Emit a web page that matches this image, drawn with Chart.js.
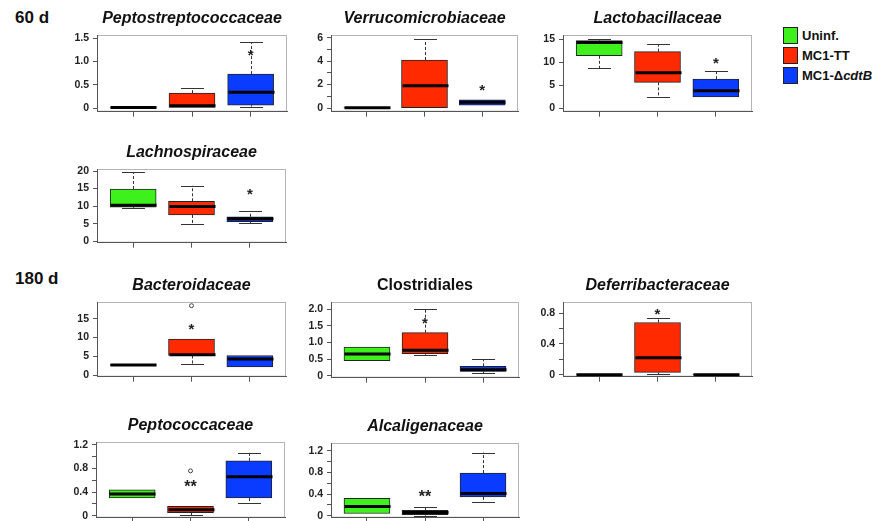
<!DOCTYPE html>
<html lang="en">
<head>
<meta charset="UTF-8">
<title>Family abundance at 60 d and 180 d</title>
<script src="https://cdn.jsdelivr.net/npm/chart.js"></script>
<style>
    body { margin: 0; width: 877px; height: 521px; overflow: hidden; background: #fff; position: relative;
           font-family: 'Liberation Sans', Arial, sans-serif; color: #111; }
    canvas { position: absolute; }
    .day { position: absolute; left: 15px; font-weight: bold; font-size: 17px; }
    .legend { position: absolute; left: 783px; top: 25px; font-weight: bold; font-size: 13px; }
    .legend div { height: 20px; display: flex; align-items: center; }
    .legend .sw { width: 13px; height: 15px; border: 1px solid #222; margin-right: 4px; }
</style>
</head>
<body>
<div class="day" style="top:8px">60 d</div>
<div class="day" style="top:269px">180 d</div>
<div class="legend" id="legend"></div>

<script>
// groups
const groups = ['Uninf.', 'MC1-TT', 'MC1-\u0394cdtB'];
const groupColors = ['#3ef01c', '#ff2a00', '#0a3cff'];

// each stats row: [lower whisker, Q1, median, Q3, upper whisker] for Uninf., MC1-TT, MC1-ΔcdtB
// marks: [text, y] above a group, outliers: values per group

// 60 d
const peptostrepStats = [[0, 0, 0.01, 0.02, 0.02], [0, 0, 0.05, 0.32, 0.43], [0.03, 0.06, 0.34, 0.73, 1.41]];
const peptostrepMarks = [null, null, ['*', 1.21]];
const peptostrepTicks = [0, 0.5, 1, 1.5];
const peptostrepLabels = ['0', '0.5', '1.0', '1.5'];

const verrucoStats = [[0, 0, 0.02, 0.05, 0.05], [0, 0, 1.9, 4.1, 5.86], [0.2, 0.25, 0.5, 0.7, 0.76]];
const verrucoMarks = [null, null, ['*', 1.78]];
const verrucoTicks = [0, 1, 2, 3, 4, 5, 6];
const verrucoLabels = ['0', '', '2', '', '4', '', '6'];

const lactoStats = [[8.7, 11.4, 14.3, 14.7, 15.05], [2.4, 5.6, 7.7, 12.3, 13.9], [2.4, 2.45, 3.76, 6.3, 8.1]];
const lactoMarks = [null, null, ['*', 10.5]];
const lactoTicks = [0, 5, 10, 15];
const lactoLabels = ['0', '5', '10', '15'];

const lachnoStats = [[9.4, 9.7, 10.3, 14.9, 19.6], [4.9, 7.5, 9.9, 11.4, 15.8], [5.1, 5.6, 6.4, 7.0, 8.6]];
const lachnoMarks = [null, null, ['*', 14.4]];
const lachnoTicks = [0, 5, 10, 15, 20];
const lachnoLabels = ['0', '5', '10', '15', '20'];

// 180 d
const bacteroStats = [[2.6, 2.6, 2.7, 2.8, 2.8], [2.96, 5.23, 5.41, 9.56, 9.56], [2.17, 2.17, 4.28, 5.23, 5.23]];
const bacteroMarks = [null, ['*', 13.07], null];
const bacteroOutliers = [[], [18.43], []];
const bacteroTicks = [0, 5, 10, 15];
const bacteroLabels = ['0', '5', '10', '15'];

const clostStats = [[0.45, 0.45, 0.65, 0.86, 0.86], [0.63, 0.66, 0.76, 1.29, 2.0], [0.08, 0.13, 0.18, 0.28, 0.5]];
const clostMarks = [null, ['*', 1.67], null];
const clostTicks = [0, 0.5, 1, 1.5, 2];
const clostLabels = ['0', '0.5', '1.0', '1.5', '2.0'];

const deferriStats = [[0, 0, 0, 0.005, 0.005], [0.01, 0.03, 0.22, 0.68, 0.74], [0, 0, 0, 0.005, 0.005]];
const deferriMarks = [null, ['*', 0.83], null];
const deferriTicks = [0, 0.2, 0.4, 0.6, 0.8];
const deferriLabels = ['0', '', '0.4', '', '0.8'];

const peptococStats = [[0.3, 0.3, 0.37, 0.44, 0.44], [0.005, 0.05, 0.1, 0.16, 0.16], [0.21, 0.3, 0.66, 0.93, 1.07]];
const peptococMarks = [null, ['**', 0.55], null];
const peptococOutliers = [[], [0.76], []];
const peptococTicks = [0, 0.2, 0.4, 0.6, 0.8, 1.0, 1.2];
const peptococLabels = ['0', '', '0.4', '', '0.8', '', '1.2'];

const alcaliStats = [[0.04, 0.04, 0.17, 0.32, 0.32], [0, 0.02, 0.06, 0.1, 0.16], [0.25, 0.35, 0.41, 0.79, 1.17]];
const alcaliMarks = [null, ['**', 0.42], null];
const alcaliTicks = [0, 0.2, 0.4, 0.6, 0.8, 1.0, 1.2];
const alcaliLabels = ['0', '', '0.4', '', '0.8', '', '1.2'];

// frame = [left, top, right, bottom] of each plot box on the page
const panels = [
    { title: 'Peptostreptococcaceae', italic: true, stats: peptostrepStats, marks: peptostrepMarks, ticks: peptostrepTicks, labels: peptostrepLabels, yMin: -0.079, yMax: 1.571, frame: [97, 35, 287, 112] },
    { title: 'Verrucomicrobiaceae', italic: true, stats: verrucoStats, marks: verrucoMarks, ticks: verrucoTicks, labels: verrucoLabels, yMin: -0.31, yMax: 6.23, frame: [331, 35, 518, 112] },
    { title: 'Lactobacillaceae', italic: true, stats: lactoStats, marks: lactoMarks, ticks: lactoTicks, labels: lactoLabels, yMin: -0.8, yMax: 15.93, frame: [563, 35, 752, 112] },
    { title: 'Lachnospiraceae', italic: true, stats: lachnoStats, marks: lachnoMarks, ticks: lachnoTicks, labels: lachnoLabels, yMin: -0.37, yMax: 20.57, frame: [97, 169, 286, 243] },
    { title: 'Bacteroidaceae', italic: true, stats: bacteroStats, marks: bacteroMarks, outliers: bacteroOutliers, ticks: bacteroTicks, labels: bacteroLabels, yMin: -0.4, yMax: 19.41, frame: [97, 302, 286, 377] },
    { title: 'Clostridiales', italic: false, stats: clostStats, marks: clostMarks, ticks: clostTicks, labels: clostLabels, yMin: -0.06, yMax: 2.21, frame: [331, 302, 519, 378] },
    { title: 'Deferribacteraceae', italic: true, stats: deferriStats, marks: deferriMarks, ticks: deferriTicks, labels: deferriLabels, yMin: -0.026, yMax: 0.947, frame: [563, 302, 752, 377] },
    { title: 'Peptococcaceae', italic: true, stats: peptococStats, marks: peptococMarks, outliers: peptococOutliers, ticks: peptococTicks, labels: peptococLabels, yMin: -0.034, yMax: 1.25, frame: [96, 442, 285, 518] },
    { title: 'Alcaligenaceae', italic: true, stats: alcaliStats, marks: alcaliMarks, ticks: alcaliTicks, labels: alcaliLabels, yMin: -0.037, yMax: 1.347, frame: [331, 443, 519, 518] }
];

const FONT = "'Liberation Sans', Arial, sans-serif";
const AXIS_W = 45, TITLE_H = 30, XAXIS_H = 10, PAD_R = 8;

// whiskers, medians and significance stars on top of the boxes
const boxExtras = {
    id: 'boxExtras',
    beforeDraw(chart) {
        const { ctx, chartArea: a } = chart;
        ctx.save();
        ctx.strokeStyle = '#b4b4b4';
        ctx.lineWidth = 1;
        ctx.strokeRect(a.left + 0.5, a.top + 0.5, a.width - 1, a.height - 1);
        ctx.restore();
    },
    afterDatasetsDraw(chart, args, opts) {
        const { ctx, scales: { x, y } } = chart;
        const bars = chart.getDatasetMeta(0).data;
        ctx.save();
        opts.stats.forEach((s, i) => {
            const cx = Math.round(x.getPixelForValue(i + 1)) + 0.5;
            const w = bars[i].width;
            const [lo, q1, med, q3, hi] = s.map(v => y.getPixelForValue(v));
            ctx.strokeStyle = '#333';
            ctx.lineWidth = 1;
            // dashed whiskers
            ctx.setLineDash([3, 2]);
            ctx.beginPath();
            if (hi < q3 - 1) { ctx.moveTo(cx, q3); ctx.lineTo(cx, hi); }
            if (lo > q1 + 1) { ctx.moveTo(cx, q1); ctx.lineTo(cx, lo); }
            ctx.stroke();
            // caps
            ctx.setLineDash([]);
            ctx.beginPath();
            if (hi < q3 - 1) { const yy = Math.round(hi) + 0.5; ctx.moveTo(cx - w / 4, yy); ctx.lineTo(cx + w / 4, yy); }
            if (lo > q1 + 1) { const yy = Math.round(lo) + 0.5; ctx.moveTo(cx - w / 4, yy); ctx.lineTo(cx + w / 4, yy); }
            ctx.stroke();
            // median
            ctx.strokeStyle = '#000';
            ctx.lineWidth = 3;
            ctx.beginPath();
            ctx.moveTo(cx - w / 2, med);
            ctx.lineTo(cx + w / 2, med);
            ctx.stroke();
        });
        // stars
        ctx.fillStyle = '#222';
        ctx.textAlign = 'center';
        ctx.textBaseline = 'alphabetic';
        opts.marks.forEach((m, i) => {
            if (!m) return;
            const size = m[0].length > 1 ? 16 : 15;
            ctx.font = `bold ${size}px ${FONT}`;
            ctx.fillText(m[0], x.getPixelForValue(i + 1), y.getPixelForValue(m[1]) + size * 0.55);
        });
        ctx.restore();
    }
};

panels.forEach(p => {
    const [fl, ft, fr, fb] = p.frame;
    const canvas = document.createElement('canvas');
    const w = fr - fl + AXIS_W + PAD_R;
    const h = fb - ft + TITLE_H + XAXIS_H;
    canvas.width = w;
    canvas.height = h;
    canvas.style.left = (fl - AXIS_W) + 'px';
    canvas.style.top = (ft - TITLE_H) + 'px';
    canvas.style.width = w + 'px';
    canvas.style.height = h + 'px';
    document.body.appendChild(canvas);

    const datasets = [{
        type: 'bar',
        data: p.stats.map((s, i) => ({ x: i + 1, y: [s[1], s[3]] })),
        backgroundColor: groupColors,
        borderColor: '#222',
        borderWidth: 1,
        borderSkipped: false,
        barThickness: 46
    }];
    if (p.outliers) {
        datasets.push({
            type: 'scatter',
            data: p.outliers.flatMap((vals, i) => vals.map(v => ({ x: i + 1, y: v }))),
            pointRadius: 2,
            pointBackgroundColor: '#fff',
            pointBorderColor: '#444',
            pointBorderWidth: 1,
            showLine: false
        });
    }

    new Chart(canvas, {
        type: 'bar',
        data: { datasets },
        options: {
            responsive: false,
            animation: false,
            devicePixelRatio: 1,
            layout: { padding: { left: 0, right: PAD_R, top: 0, bottom: 0 } },
            plugins: {
                legend: { display: false },
                tooltip: { enabled: false },
                title: {
                    display: true,
                    text: p.title,
                    fullSize: false,
                    color: '#111',
                    font: { family: FONT, size: 16, weight: 'bold', style: p.italic ? 'italic' : 'normal', lineHeight: 1 },
                    padding: { top: 6, bottom: 8 }
                },
                boxExtras: { stats: p.stats, marks: p.marks }
            },
            scales: {
                x: {
                    type: 'linear',
                    min: 0.38,
                    max: 3.62,
                    offset: false,
                    afterBuildTicks: s => { s.ticks = [1, 2, 3].map(v => ({ value: v })); },
                    afterFit: s => { s.height = XAXIS_H; },
                    ticks: { callback: () => '', padding: 0 },
                    grid: { display: true, offset: false, drawOnChartArea: false, drawTicks: true, tickLength: 5, color: '#555' },
                    border: { display: true, color: '#555' }
                },
                y: {
                    type: 'linear',
                    min: p.yMin,
                    max: p.yMax,
                    afterBuildTicks: s => { s.ticks = p.ticks.map(v => ({ value: v })); },
                    afterFit: s => { s.width = AXIS_W; },
                    ticks: {
                        autoSkip: false,
                        padding: 4,
                        color: '#222',
                        font: { family: FONT, size: 10.5, weight: 'bold' },
                        callback: (v, i) => p.labels[i]
                    },
                    grid: { display: true, drawOnChartArea: false, drawTicks: true, tickLength: 4, color: '#555' },
                    border: { display: true, color: '#555' }
                }
            }
        },
        plugins: [boxExtras]
    });
});

// legend
const legend = document.getElementById('legend');
groups.forEach((g, i) => {
    const row = document.createElement('div');
    const sw = document.createElement('span');
    sw.className = 'sw';
    sw.style.background = groupColors[i];
    const label = document.createElement('span');
    if (g.endsWith('cdtB')) {
        label.innerHTML = 'MC1-\u0394<i>cdtB</i>';
    } else {
        label.textContent = g;
    }
    row.appendChild(sw);
    row.appendChild(label);
    legend.appendChild(row);
});
</script>
</body>
</html>
